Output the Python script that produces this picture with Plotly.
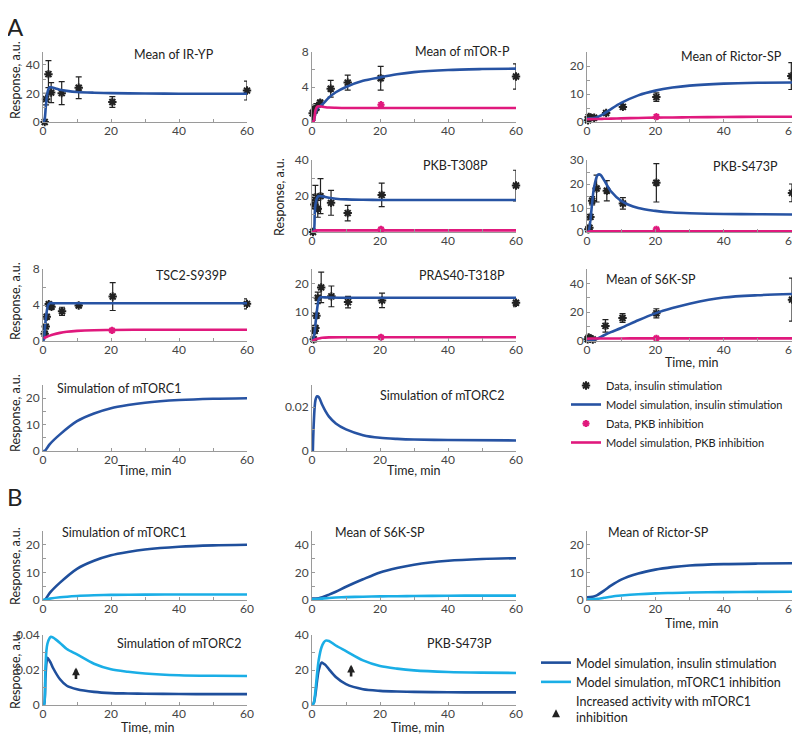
import plotly.graph_objects as go

# the page adds an 8 px body margin, so the figure is drawn 8 px in from the corner
OFF = 8
W, H = 800 - OFF, 737 - OFF

# ---------------- Panel A: measured data (mean, sd), insulin stimulation ----------------
ir_t = [0.5, 0.9, 1.6, 2.4, 5.5, 10.5, 20.4, 60]
ir_mean = [0, 16, 33.5, 20.6, 20.2, 24, 14, 22]
ir_sd = [0, 4, 9.5, 7, 8, 7.6, 3.8, 6.6]

mtor_t = [0.2, 0.8, 1.3, 2.4, 5.5, 10.5, 20.2, 60]
mtor_mean = [1.0, 1.4, 1.7, 2.2, 3.8, 4.5, 5.0, 5.2]
mtor_sd = [0.8, 0.4, 0.4, 0.3, 0.95, 0.85, 1.35, 1.45]

rictor_t = [0.3, 0.5, 1.0, 2.1, 5.6, 10.5, 20.3, 59.8]
rictor_mean = [0.6, 1.8, 1.6, 1.5, 3.2, 5.4, 8.9, 16.4]
rictor_sd = [0.3, 0.6, 0.5, 0.4, 0.5, 0.8, 1.5, 4.8]

t308_t = [0.3, 0.7, 1.0, 1.7, 2.5, 5.6, 10.5, 20.5, 60]
t308_mean = [0, 15.3, 19.4, 12.9, 19.9, 16.2, 10.5, 20.6, 25.8]
t308_sd = [0, 2.3, 6.5, 4.7, 9.7, 6.9, 4.3, 6.5, 8.5]

s473_t = [0.4, 0.7, 1.0, 1.5, 2.8, 5.8, 10.5, 20.3, 60]
s473_mean = [1.1, 1.8, 6.3, 13.0, 18.1, 17.2, 11.9, 20.5, 16.3]
s473_sd = [0.5, 0.8, 0.8, 1.7, 5.6, 4.2, 2.4, 8.0, 3.7]

tsc2_t = [0.5, 0.8, 1.1, 1.7, 2.5, 5.6, 10.5, 20.5, 60]
tsc2_mean = [0.8, 1.6, 2.7, 4.1, 3.8, 3.3, 3.95, 4.94, 4.13]
tsc2_sd = [0.15, 0.2, 0.2, 0.2, 0.15, 0.45, 0.15, 1.55, 0.55]

pras_t = [0.5, 0.8, 1.0, 1.3, 1.7, 2.7, 5.7, 10.6, 20.6, 60]
pras_mean = [0.6, 3.5, 4.5, 8.8, 15, 18.6, 15.5, 13.5, 14.1, 13.3]
pras_sd = [0.3, 0.6, 0.6, 0.8, 2, 5.3, 3.6, 2, 2.5, 1.4]

s6k_t = [0.2, 0.5, 0.9, 1.7, 5.4, 10.4, 20.3, 60]
s6k_mean = [1.2, 2.4, 1.7, 1.0, 10.5, 16.0, 19.2, 28.7]
s6k_sd = [0.5, 0.8, 0.5, 0.3, 4.4, 3.0, 3.2, 14.9]

# PKB inhibition data, one point at 20 min
pkbi_t = [20.3]
mtor_pkbi = [1.98]
rictor_pkbi = [1.9]
t308_pkbi = [1.5]
s473_pkbi = [1.1]
tsc2_pkbi = [1.18]
pras_pkbi = [1.3]
s6k_pkbi = [1.9]

# ---------------- Panel A: model simulations ----------------
ir_model_t = [0, 0.4, 0.8, 1.2, 1.6, 2, 3, 4, 5, 7, 10, 15, 20, 30, 40, 60]
ir_model = [0, 1, 10, 19, 23, 24.3, 24, 23.3, 22.6, 21.8, 21, 20.5, 20.2, 19.9, 19.8, 19.8]

mtor_model_t = [0, 0.5, 1, 1.5, 2, 3, 5, 7, 10, 15, 20, 25, 30, 40, 50, 60]
mtor_model = [0, 0.1, 1.0, 1.5, 1.7, 2.0, 2.8, 3.4, 4.0, 4.7, 5.1, 5.45, 5.7, 5.95, 6.05, 6.1]
mtor_model_pkbi = [0, 0.1, 1.3, 1.75, 1.8, 1.75, 1.65, 1.62, 1.6, 1.6, 1.6, 1.6, 1.6, 1.6, 1.6, 1.6]

rictor_model_t = [0, 1, 2, 3, 4, 5, 7, 10, 15, 20, 25, 30, 40, 50, 60]
rictor_model = [1.2, 1.3, 1.4, 1.7, 2.3, 3.0, 4.6, 6.8, 9.5, 11.2, 12.3, 13.0, 13.7, 14.0, 14.1]
rictor_model_pkbi = [1.0, 1.02, 1.05, 1.08, 1.1, 1.15, 1.2, 1.3, 1.45, 1.55, 1.62, 1.7, 1.8, 1.85, 1.9]

t308_model_t = [0, 0.5, 0.8, 1, 1.5, 2, 3, 5, 7, 10, 15, 20, 30, 40, 60]
t308_model = [0, 0.3, 10, 15, 19, 20, 19.8, 19, 18.5, 18.1, 17.9, 17.8, 17.8, 17.8, 17.8]
t308_model_pkbi = [0, 0.2, 0.6, 0.8, 0.9, 0.9, 0.9, 0.9, 0.9, 0.9, 0.9, 0.9, 0.9, 0.9, 0.9]

s473_model_t = [0, 0.5, 1, 1.5, 2, 3, 3.5, 4, 5, 7, 10, 15, 20, 25, 30, 40, 50, 60]
s473_model = [0, 0.5, 5, 12, 18, 23.5, 24, 23.7, 21.6, 17, 13, 10, 8.8, 8.1, 7.8, 7.5, 7.4, 7.3]
s473_model_pkbi = [0, 0.1, 0.25, 0.3, 0.3, 0.3, 0.3, 0.3, 0.3, 0.3, 0.3, 0.3, 0.3, 0.3, 0.3, 0.3, 0.3, 0.3]

tsc2_model_t = [0, 0.3, 0.5, 1, 1.5, 2, 3, 5, 10, 20, 30, 40, 60]
tsc2_model = [0, 0.2, 1.2, 3.0, 4.0, 4.2, 4.2, 4.2, 4.2, 4.2, 4.2, 4.2, 4.2]
tsc2_pkbi_t = [0.3, 0.5, 1, 2, 3, 5, 7, 10, 15, 20, 30, 60]
tsc2_model_pkbi = [0.25, 0.35, 0.45, 0.6, 0.72, 0.9, 1.02, 1.12, 1.2, 1.22, 1.25, 1.25]

pras_model_t = [0, 0.4, 0.8, 1.3, 2, 2.5, 3, 5, 10, 20, 30, 60]
pras_model = [0, 0.5, 3.5, 9, 14.5, 15.2, 15.2, 15.1, 15, 15, 15, 15]
pras_model_pkbi = [0, 0.2, 0.45, 0.7, 0.9, 1.0, 1.1, 1.25, 1.3, 1.3, 1.3, 1.3]

s6k_model_t = [0, 1, 2, 3, 5, 7, 10, 15, 20, 25, 30, 40, 50, 60]
s6k_model = [0.5, 0.6, 0.9, 1.6, 4, 6.2, 9, 14.4, 19.2, 22.9, 25.9, 30.2, 31.8, 32.6]
s6k_model_pkbi = [1.5, 1.7, 1.75, 1.75, 1.75, 1.75, 1.78, 1.8, 1.8, 1.8, 1.8, 1.8, 1.8, 1.8]

mtorc1_t = [0, 0.5, 2, 5, 10, 15, 20, 25, 30, 40, 50, 60]
mtorc1_sim = [0, 0, 2.6, 6.3, 11.3, 14.2, 16.2, 17.4, 18.3, 19.3, 19.8, 20]

mtorc2_t = [0.25, 0.5, 1, 1.5, 2, 3, 4, 5, 7, 10, 15, 20, 25, 30, 40, 60]
mtorc2_sim = [0, 0.012, 0.023, 0.0249, 0.0245, 0.021, 0.018, 0.0156, 0.0125, 0.0098, 0.0072,
              0.006, 0.0055, 0.0052, 0.005, 0.0048]

# ---------------- Panel B: insulin vs mTORC1 inhibition ----------------
b_mtorc1_inh_t = [0, 1, 2, 5, 10, 15, 20, 30, 40, 60]
b_mtorc1_inh = [0, 0.25, 0.5, 1.0, 1.45, 1.7, 1.85, 1.95, 2.0, 2.0]

b_s6k_t = [0, 2, 5, 7, 10, 15, 20, 25, 30, 40, 50, 60]
b_s6k_ins = [1.0, 1.3, 3.9, 6, 9.6, 15, 20, 23.2, 25.6, 28.4, 29.7, 30.3]
b_s6k_inh = [0.5, 0.8, 1.5, 1.8, 2.1, 2.4, 2.6, 2.75, 2.9, 3.1, 3.15, 3.2]

b_rictor_t = [0, 1, 2, 3, 5, 7, 10, 15, 20, 25, 30, 40, 50, 60]
b_rictor_ins = [1.0, 1.1, 1.3, 1.8, 3.4, 5.2, 7.4, 9.6, 11.0, 11.9, 12.5, 13.0, 13.2, 13.3]
b_rictor_inh = [0.2, 0.22, 0.3, 0.4, 0.8, 1.2, 1.6, 2.1, 2.4, 2.55, 2.7, 2.85, 2.95, 3.0]

b_mtorc2_t = [0, 0.3, 0.7, 1, 1.3, 2, 2.3, 3, 5, 7, 10, 15, 20, 25, 30, 40, 50, 60]
b_mtorc2_ins = [0, 0, 0.015, 0.024, 0.027, 0.025, 0.024, 0.021, 0.0147, 0.011, 0.009, 0.0075,
                0.0068, 0.0066, 0.0064, 0.0063, 0.0062, 0.0062]
b_mtorc2_inh = [0, 0, 0.02, 0.031, 0.035, 0.0385, 0.039, 0.0385, 0.0355, 0.032, 0.0289, 0.0236,
                0.0204, 0.019, 0.018, 0.017, 0.0167, 0.0166]

b_s473_t = [0, 0.5, 1, 1.5, 2, 2.8, 3.5, 4, 5, 7, 10, 15, 20, 25, 30, 40, 50, 60]
b_s473_ins = [0, 1, 6, 14, 20, 24.2, 23.5, 22.8, 20.4, 16, 11.9, 9, 8.1, 7.7, 7.5, 7.3, 7.2, 7.2]
b_s473_inh = [0, 1, 8, 18, 26, 33, 35.8, 36.8, 36.6, 34, 30.8, 25.5, 22.3, 20.8, 19.8, 18.9, 18.5, 18.3]

# "increased activity" arrows: time, from, to
arrow_mtorc2 = [9.7, 0.0140, 0.0215]
arrow_s473 = [11.5, 15.5, 23]

# ---------------- styling ----------------
BLUE = "#2753a3"
MAGENTA = "#e0197d"
DARK = "#1f4f9c"
LIGHT = "#1aaee6"
BLACK = "#222222"
AXIS_GREY = "#9a9a9a"
TICK_GREY = "#444444"
FONT = "Lato"

# panel boxes in screen pixels (x from left, y from top)
COL_X = {1: (43, 247), 2: (312, 516), 3: (587, 792)}
ROW_Y = {"a1": (52, 122), "a2": (160, 232), "a3": (269, 341), "a4": (385, 451),
         "b1": (531, 600), "b2": (635, 705)}


def fx(px):
    return (px - OFF) / W


def fy(py):
    return 1 - (py - OFF) / H


fig = go.Figure()
annotations = []


def ax_name(n, a):
    return a if n == 1 else f"{a}{n}"


def add_panel(n, col, row, yrange, dtick):
    x0, x1 = COL_X[col]
    top, bot = ROW_Y[row]
    common = dict(showline=True, linecolor=AXIS_GREY, linewidth=1, ticks="inside", ticklen=3,
                  tickcolor=AXIS_GREY, tickfont=dict(family=FONT, size=12, color=TICK_GREY),
                  showgrid=False, zeroline=False, automargin=False)
    fig.layout[ax_name(n, "xaxis")] = dict(
        common, domain=[fx(x0), fx(x1)], range=[0, 60], tick0=0, dtick=20,
        anchor=ax_name(n, "y"), ticklabelstandoff=-2,
        minor=dict(dtick=10, ticks="inside", ticklen=3, tickcolor=AXIS_GREY))
    fig.layout[ax_name(n, "yaxis")] = dict(
        common, domain=[fy(bot), fy(top)], range=yrange, tick0=0, dtick=dtick,
        anchor=ax_name(n, "x"),
        minor=dict(dtick=dtick / 2, ticks="inside", ticklen=3, tickcolor=AXIS_GREY))


def add_line(n, t, y, color, name=None, legend="legend", rank=None):
    fig.add_trace(go.Scatter(
        x=t, y=y, mode="lines", xaxis=ax_name(n, "x"), yaxis=ax_name(n, "y"),
        line=dict(color=color, width=2.6, shape="spline", smoothing=0.8),
        cliponaxis=False, name=name or "", showlegend=name is not None,
        legend=legend, legendrank=rank or 1000))


def add_points(n, t, y, sd, color, size=7, name=None, rank=None):
    fig.add_trace(go.Scatter(
        x=t, y=y, mode="markers", xaxis=ax_name(n, "x"), yaxis=ax_name(n, "y"),
        marker=dict(symbol="asterisk-open", size=size, color=color, line=dict(width=2, color=color)),
        error_y=dict(type="data", array=sd or [0] * len(y), visible=sd is not None,
                     color=color, thickness=1.2, width=3),
        cliponaxis=False, name=name or "", showlegend=name is not None, legendrank=rank or 1000))


def text(x, y, s, size=12.5, angle=0, color=BLACK):
    annotations.append(dict(x=fx(x), y=fy(y), xref="paper", yref="paper", text=s,
                            showarrow=False, textangle=angle, xanchor="center", yanchor="middle",
                            font=dict(family=FONT, size=size, color=color)))


def arrow(n, spec):
    t, y0, y1 = spec
    annotations.append(dict(x=t, y=y1, ax=t, ay=y0, xref=ax_name(n, "x"), yref=ax_name(n, "y"),
                            axref=ax_name(n, "x"), ayref=ax_name(n, "y"), text="",
                            showarrow=True, arrowhead=2, arrowsize=0.6, arrowwidth=2.6,
                            arrowcolor=BLACK, standoff=0, startstandoff=0))


# ---- A ----
add_panel(1, 1, "a1", [0, 49], 20)
add_points(1, ir_t, ir_mean, ir_sd, BLACK, name="Data, insulin stimulation", rank=1)
add_line(1, ir_model_t, ir_model, BLUE, name="Model simulation, insulin stimulation", rank=2)
text(174, 55, "Mean of IR-YP")

add_panel(2, 2, "a1", [0, 8], 4)
add_points(2, mtor_t, mtor_mean, mtor_sd, BLACK)
add_line(2, mtor_model_t, mtor_model, BLUE)
add_line(2, mtor_model_t, mtor_model_pkbi, MAGENTA, name="Model simulation, PKB inhibition", rank=4)
add_points(2, pkbi_t, mtor_pkbi, None, MAGENTA, size=6, name="Data, PKB inhibition", rank=3)
text(462, 51, "Mean of mTOR-P")

add_panel(3, 3, "a1", [0, 25], 10)
add_points(3, rictor_t, rictor_mean, rictor_sd, BLACK)
add_line(3, rictor_model_t, rictor_model, BLUE)
add_line(3, rictor_model_t, rictor_model_pkbi, MAGENTA)
add_points(3, pkbi_t, rictor_pkbi, None, MAGENTA, size=6)
text(731, 56, "Mean of Rictor-SP")

add_panel(4, 2, "a2", [0, 40], 20)
add_points(4, t308_t, t308_mean, t308_sd, BLACK)
add_line(4, t308_model_t, t308_model, BLUE)
add_line(4, t308_model_t, t308_model_pkbi, MAGENTA)
add_points(4, pkbi_t, t308_pkbi, None, MAGENTA, size=6)
text(455, 165, "PKB-T308P")

add_panel(5, 3, "a2", [0, 30], 10)
add_points(5, s473_t, s473_mean, s473_sd, BLACK)
add_line(5, s473_model_t, s473_model, BLUE)
add_line(5, s473_model_t, s473_model_pkbi, MAGENTA)
add_points(5, pkbi_t, s473_pkbi, None, MAGENTA, size=6)
text(745, 166, "PKB-S473P")

add_panel(6, 1, "a3", [0, 8], 4)
add_points(6, tsc2_t, tsc2_mean, tsc2_sd, BLACK)
add_line(6, tsc2_model_t, tsc2_model, BLUE)
add_line(6, tsc2_pkbi_t, tsc2_model_pkbi, MAGENTA)
add_points(6, pkbi_t, tsc2_pkbi, None, MAGENTA, size=6)
text(191, 275, "TSC2-S939P")

add_panel(7, 2, "a3", [0, 25], 10)
add_points(7, pras_t, pras_mean, pras_sd, BLACK)
add_line(7, pras_model_t, pras_model, BLUE)
add_line(7, pras_model_t, pras_model_pkbi, MAGENTA)
add_points(7, pkbi_t, pras_pkbi, None, MAGENTA, size=6)
text(462, 276, "PRAS40-T318P")

add_panel(8, 3, "a3", [0, 50], 20)
add_points(8, s6k_t, s6k_mean, s6k_sd, BLACK)
add_line(8, s6k_model_t, s6k_model, BLUE)
add_line(8, s6k_model_t, s6k_model_pkbi, MAGENTA)
add_points(8, pkbi_t, s6k_pkbi, None, MAGENTA, size=6)
text(651, 279, "Mean of S6K-SP")

add_panel(9, 1, "a4", [0, 25], 10)
add_line(9, mtorc1_t, mtorc1_sim, BLUE)
text(119, 389, "Simulation of mTORC1")

add_panel(10, 2, "a4", [0, 0.03], 0.02)
add_line(10, mtorc2_t, mtorc2_sim, BLUE)
text(442, 395, "Simulation of mTORC2")

# ---- B ----
add_panel(11, 1, "b1", [0, 25], 10)
add_line(11, mtorc1_t, mtorc1_sim, DARK, name="Model simulation, insulin stimulation",
         legend="legend2", rank=1)
add_line(11, b_mtorc1_inh_t, b_mtorc1_inh, LIGHT, name="Model simulation, mTORC1 inhibition",
         legend="legend2", rank=2)
text(124, 532, "Simulation of mTORC1")

add_panel(12, 2, "b1", [0, 50], 20)
add_line(12, b_s6k_t, b_s6k_ins, DARK)
add_line(12, b_s6k_t, b_s6k_inh, LIGHT)
text(380, 532, "Mean of S6K-SP")

add_panel(13, 3, "b1", [0, 25], 10)
add_line(13, b_rictor_t, b_rictor_ins, DARK)
add_line(13, b_rictor_t, b_rictor_inh, LIGHT)
text(658, 532, "Mean of Rictor-SP")

add_panel(14, 1, "b2", [0, 0.04], 0.02)
add_line(14, b_mtorc2_t, b_mtorc2_ins, DARK)
add_line(14, b_mtorc2_t, b_mtorc2_inh, LIGHT)
arrow(14, arrow_mtorc2)
text(179, 643, "Simulation of mTORC2")

add_panel(15, 2, "b2", [0, 40], 20)
add_line(15, b_s473_t, b_s473_ins, DARK)
add_line(15, b_s473_t, b_s473_inh, LIGHT)
arrow(15, arrow_s473)
text(459, 643, "PKB-S473P")

# legend entry for the arrow symbol
fig.add_trace(go.Scatter(x=[None], y=[None], mode="markers", xaxis="x15", yaxis="y15",
                         marker=dict(symbol="arrow-up", size=8, color=BLACK),
                         name="Increased activity with mTORC1<br>inhibition",
                         legend="legend2", legendrank=3))

# axis titles and panel letters
for cx, cy in [(15, 80), (279, 197), (15, 301), (15, 413), (15, 566), (15, 670)]:
    text(cx, cy, "Response, a.u.", angle=-90)
for cx, cy in [(692, 362), (145, 471), (414, 471), (692, 623), (148, 727), (418, 727)]:
    text(cx, cy, "Time, min")
text(15, 27, "A", size=24)
text(15, 496, "B", size=24)

fig.update_layout(
    width=W, height=H, margin=dict(l=0, r=0, t=0, b=0),
    plot_bgcolor="white", paper_bgcolor="white",
    font=dict(family=FONT, color=BLACK),
    annotations=annotations,
    legend=dict(x=fx(566), y=fy(371), xanchor="left", yanchor="top",
                font=dict(family=FONT, size=11, color=BLACK),
                bgcolor="rgba(0,0,0,0)", itemwidth=30, tracegroupgap=0),
    legend2=dict(x=fx(536), y=fy(648), xanchor="left", yanchor="top",
                 font=dict(family=FONT, size=12.5, color=BLACK),
                 bgcolor="rgba(0,0,0,0)", itemwidth=30, tracegroupgap=0),
)

fig.write_html("out.html")
